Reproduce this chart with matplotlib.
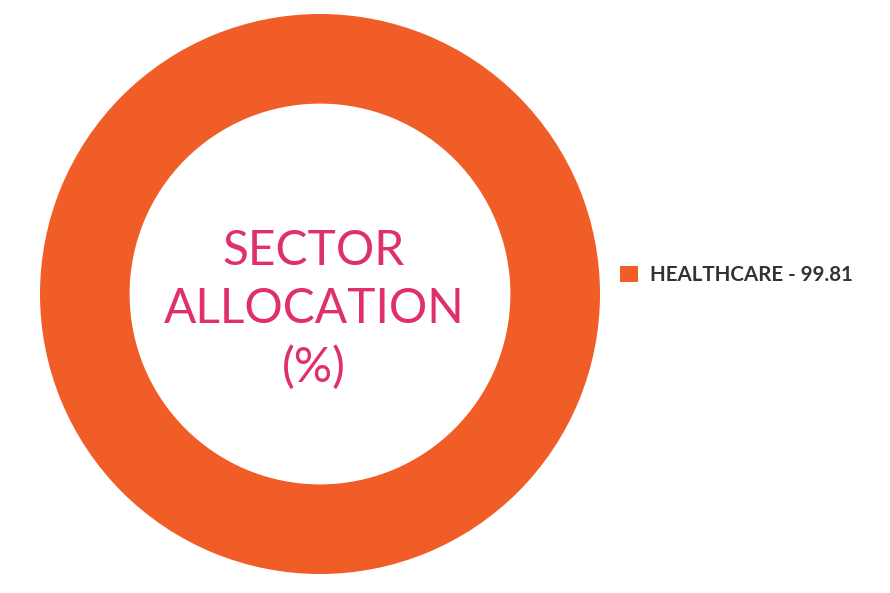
import matplotlib
matplotlib.use("Agg")
import matplotlib.pyplot as plt
from matplotlib.patches import Patch

sectors = ["HEALTHCARE"]
values = [99.81]
colors = ["#F15D27"]
center_text = "SECTOR\nALLOCATION\n(%)"

W, H = 890, 593
fig = plt.figure(figsize=(W / 100, H / 100), dpi=100)
fig.patch.set_facecolor("white")

ax = fig.add_axes([40 / W, (H - 574) / H, 560 / W, 560 / H])
ax.pie(values, colors=colors, radius=1.0, startangle=90, counterclock=False,
       wedgeprops=dict(width=0.32, edgecolor="none"))
ax.set_xlim(-1, 1)
ax.set_ylim(-1, 1)
ax.set_aspect("equal")
ax.axis("off")

ax.text(-0.022, -0.056, center_text, ha="center", va="center", fontsize=34.5,
        family="Lato", color="#E0306A", linespacing=1.38)

handles = [Patch(facecolor=c, edgecolor="none", label=f"{s} - {v:.2f}")
           for s, v, c in zip(sectors, values, colors)]
leg = fig.legend(handles=handles, loc="center left",
                 bbox_to_anchor=(620 / W, 1 - 275 / H), frameon=False,
                 prop=dict(family="Lato", weight="bold", size=14.8),
                 handlelength=0.875, handleheight=0.875, handletextpad=0.58,
                 borderpad=0, borderaxespad=0)
for t in leg.get_texts():
    t.set_color("#333333")

fig.savefig("out.png", dpi=100, facecolor="white")
